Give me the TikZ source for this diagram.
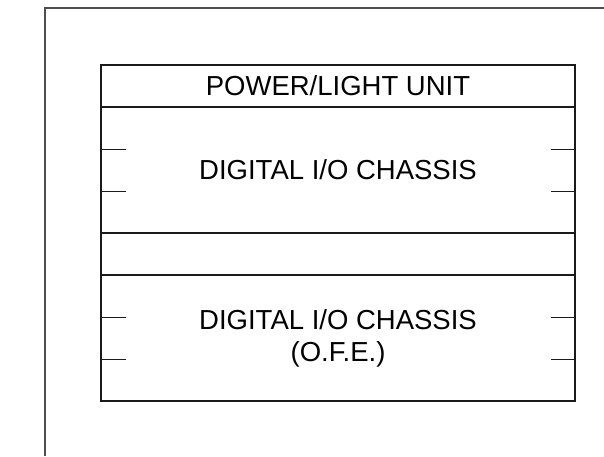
\documentclass[tikz,border=0pt]{standalone}
\usepackage{fontspec}
\setmainfont{Liberation Sans}
\usepackage{tikz}
\usetikzlibrary{positioning,calc}
\definecolor{ink}{HTML}{1A1A1A}
\definecolor{frame}{HTML}{4D4D4D}
\tikzset{
  unit/.style={rectangle, draw=ink, line width=1.2pt, minimum width=474pt, outer sep=0pt,
               align=center, inner sep=0pt, font=\fontsize{27.5}{32}\selectfont},
  slimunit/.style={unit, minimum height=42pt},
  chassis/.style={unit, minimum height=126pt},
  tick/.style={draw=ink, line width=1pt},
  border/.style={draw=frame, line width=1.1pt}
}

\begin{document}
\begin{tikzpicture}[x=1pt, y=1pt]
  \useasboundingbox (0,0) rectangle (604,-456);
  \coordinate (corner) at (45,-8);
  \draw[border] (604,-8) -- (corner) -- (45,-456);
  \node[slimunit] (power) at (338,-86) {POWER/LIGHT UNIT};
  \node[chassis, below=0pt of power] (chassisA) {DIGITAL I/O CHASSIS};
  \node[slimunit, below=0pt of chassisA] (spacer) {};
  \node[chassis, below=0pt of spacer] (chassisB) {DIGITAL I/O CHASSIS\\(O.F.E.)};
  \foreach \n in {chassisA,chassisB}
    \foreach \f in {1/3,2/3} {
      \draw[tick] ($(\n.north west)!\f!(\n.south west)$) -- ++(25,0);
      \draw[tick] ($(\n.north east)!\f!(\n.south east)$) -- ++(-24,0);
    }
\end{tikzpicture}
\end{document}
